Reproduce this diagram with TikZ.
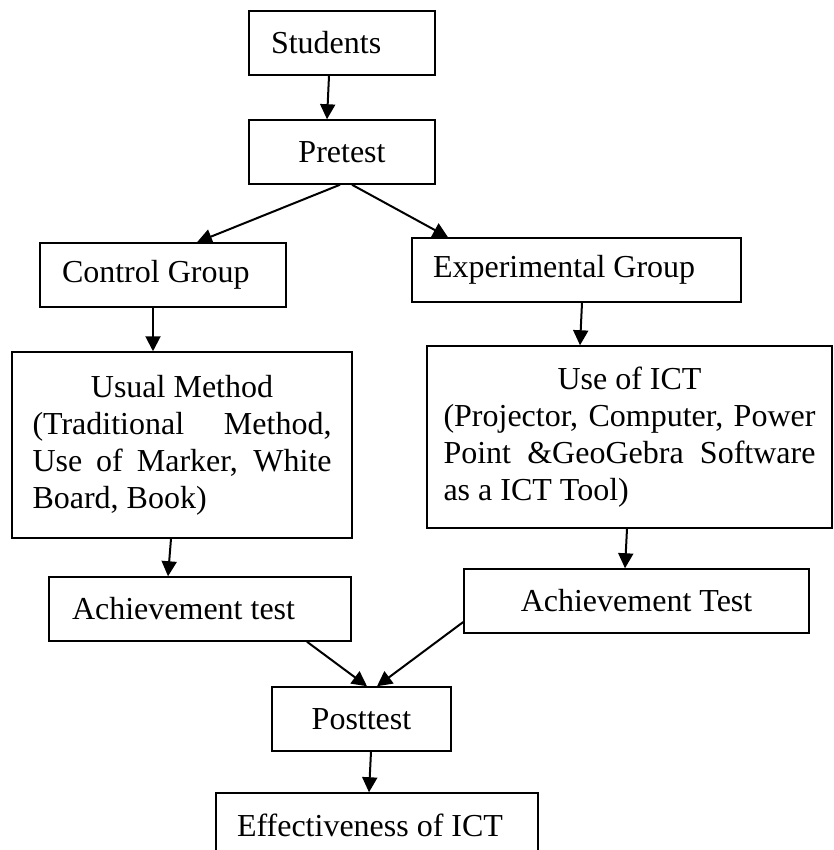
\documentclass[tikz,border=0pt]{standalone}
\usepackage{fontspec}
\setmainfont{Liberation Serif}
\usetikzlibrary{arrows.meta}
\begin{document}
\begin{tikzpicture}[x=1pt,y=-1pt,
  box/.style={draw,line width=1.5pt,inner ysep=0pt,minimum height=64pt,
    font=\fontsize{32}{37}\selectfont},
  arr/.style={line width=2pt,-{Triangle[length=15pt,width=15pt]}}]
\useasboundingbox (0,0) rectangle (833,850);
\clip (0,0) rectangle (833,850);
\node[box,inner xsep=22pt,text width=142pt,align=flush left] (students) at (342,43) {Students};
\node[box,inner xsep=0pt,minimum width=186pt] (pretest) at (342,152) {Pretest};
\node[box,inner xsep=22pt,text width=202pt,align=flush left] (control) at (163,275) {Control Group};
\node[box,inner xsep=21pt,text width=287pt,align=flush left] (exp) at (576.5,270) {Experimental Group};
\node[box,inner xsep=20.5pt,text width=299pt,align=justify,minimum height=186pt] (usual) at (182,445)
  {\makebox[\linewidth]{Usual Method}\linebreak (Traditional Method,\linebreak Use of Marker, White\linebreak Board, Book)};
\node[box,inner xsep=16.5pt,text width=372pt,align=justify,minimum height=182pt] (ict) at (629.5,437)
  {\makebox[\linewidth]{Use of ICT}\linebreak (Projector, Computer, Power\linebreak Point \&GeoGebra Software\linebreak as a ICT Tool)};
\node[box,inner xsep=23pt,text width=256pt,align=flush left] (achl) at (200,609) {Achievement test};
\node[box,inner xsep=0pt,minimum width=345pt] (achr) at (636.5,601) {Achievement Test};
\node[box,inner xsep=0pt,minimum width=179pt] (post) at (361.5,719) {Posttest};
\node[box,inner xsep=21pt,text width=280pt,align=flush left] (eff) at (377,825) {Effectiveness of ICT};

\draw[arr] ([xshift=-13pt]students.south) -- ([xshift=-15pt]pretest.north);
\draw[arr] ([xshift=-2pt]pretest.south) -- ([xshift=34pt]control.north);
\draw[arr] ([xshift=10pt]pretest.south) -- ([xshift=-128.5pt]exp.north);
\draw[arr] ([xshift=-10pt]control.south) -- ([xshift=-29pt]usual.north);
\draw[arr] ([xshift=5.5pt]exp.south) -- ([xshift=-49.5pt]ict.north);
\draw[arr] ([xshift=-11pt]usual.south) -- ([xshift=-32pt]achl.north);
\draw[arr] ([xshift=-2.5pt]ict.south) -- ([xshift=-11.5pt]achr.north);
\draw[arr] ([xshift=107pt]achl.south) -- ([xshift=5.5pt]post.north);
\draw[arr] ([yshift=-21pt]achr.west) -- ([xshift=15.5pt]post.north);
\draw[arr] ([xshift=9.5pt]post.south) -- ([xshift=-8pt]eff.north);
\end{tikzpicture}
\end{document}
